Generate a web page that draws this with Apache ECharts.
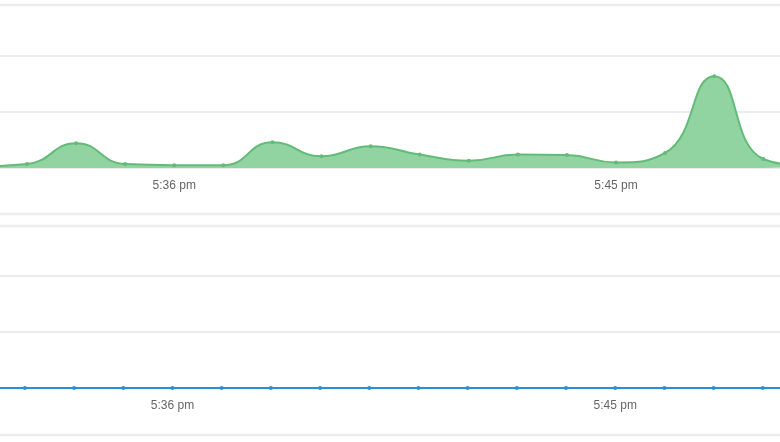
<!DOCTYPE html>
<html>
<head>
<meta charset="utf-8">
<script src="https://cdn.jsdelivr.net/npm/echarts@6/dist/echarts.min.js"></script>
<style>
  html, body { margin: 0; padding: 0; background: #fff; }
  #chart { width: 780px; height: 442px; }
</style>
</head>
<body>
<div id="chart"></div>
<script>
// Minutes after 5:00 pm for each sample
const minutes = [32, 33, 34, 35, 36, 37, 38, 39, 40, 41, 42, 43, 44, 45, 46, 47, 48, 49];
// Top panel series (green area)
const topValues = [0.3, 0.7, 4.4, 0.7, 0.5, 0.5, 4.6, 2.1, 3.9, 2.4, 1.3, 2.4, 2.3, 1.0, 2.7, 16.4, 1.6, 0.3];
// Bottom panel series (blue line) – flat at zero
const bottomValues = [0, 0, 0, 0, 0, 0, 0, 0, 0, 0, 0, 0, 0, 0, 0, 0, 0, 0];
// Tick labels shown on x axes
const tickMinutes = [36, 45];
const tickLabels = ['5:36 pm', '5:45 pm'];

const chart = echarts.init(document.getElementById('chart'), null, { renderer: 'canvas' });

function pair(vals) { return minutes.map((m, i) => [m, vals[i]]); }
function labelFor(v) {
  const i = tickMinutes.indexOf(Math.round(v));
  return i >= 0 ? tickLabels[i] : '';
}

const gridLineColor = '#e6e6e6';
const borderColor = '#ececec';

function xAxisFor(gridIndex, min, max) {
  return {
    type: 'value', gridIndex, min, max,
    axisLine: { show: false },
    axisTick: { show: false },
    splitLine: { show: false },
    axisLabel: {
      customValues: tickMinutes,
      formatter: labelFor,
      color: '#666',
      fontSize: 12,
      fontFamily: 'Liberation Sans, Arial, sans-serif',
      margin: 12
    }
  };
}
function yAxisFor(gridIndex, max) {
  return {
    type: 'value', gridIndex, min: 0, max, interval: max / 2,
    axisLine: { show: false },
    axisTick: { show: false },
    axisLabel: { show: false },
    splitLine: { show: true, lineStyle: { color: gridLineColor, width: 1.5 } }
  };
}

chart.setOption({
  animation: false,
  grid: [
    { left: 0, right: 0, top: 56, height: 112 },
    { left: 0, right: 0, top: 276, height: 112 }
  ],
  xAxis: [
    xAxisFor(0, 32.45, 48.34),
    xAxisFor(1, 32.494, 48.35)
  ],
  yAxis: [
    yAxisFor(0, 20),
    yAxisFor(1, 20)
  ],
  graphic: [
    { type: 'line', shape: { x1: 0, y1: 5, x2: 780, y2: 5 }, style: { stroke: borderColor, lineWidth: 2.5 }, silent: true },
    { type: 'line', shape: { x1: 0, y1: 214, x2: 780, y2: 214 }, style: { stroke: borderColor, lineWidth: 2.5 }, silent: true },
    { type: 'line', shape: { x1: 0, y1: 226, x2: 780, y2: 226 }, style: { stroke: borderColor, lineWidth: 2.5 }, silent: true },
    { type: 'line', shape: { x1: 0, y1: 435, x2: 780, y2: 435 }, style: { stroke: borderColor, lineWidth: 2.5 }, silent: true }
  ],
  series: [
    {
      type: 'line', xAxisIndex: 0, yAxisIndex: 0,
      data: pair(topValues),
      smooth: 0.5,
      symbol: 'circle', symbolSize: 4, showSymbol: true,
      lineStyle: { color: '#63bb78', width: 2 },
      itemStyle: { color: '#63bb78' },
      areaStyle: { color: '#91d4a2', opacity: 1 }
    },
    {
      type: 'line', xAxisIndex: 1, yAxisIndex: 1,
      data: pair(bottomValues),
      symbol: 'circle', symbolSize: 4, showSymbol: true,
      lineStyle: { color: '#2b8fd8', width: 2 },
      itemStyle: { color: '#2b8fd8' }
    }
  ]
});
</script>
</body>
</html>
